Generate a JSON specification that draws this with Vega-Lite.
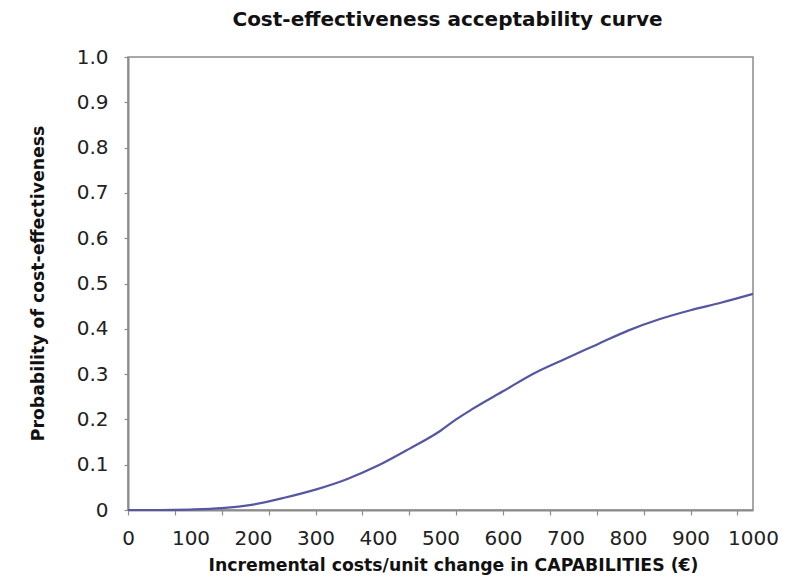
{
  "$schema": "https://vega.github.io/schema/vega-lite/v6.json",
  "width": 625,
  "height": 453,
  "autosize": {"type": "none"},
  "padding": {"left": 128, "top": 57, "right": 57, "bottom": 72},
  "background": "white",
  "title": {
    "text": "Cost-effectiveness acceptability curve",
    "font": "DejaVu Sans",
    "fontSize": 20,
    "fontWeight": "bold",
    "color": "#111111",
    "anchor": "middle",
    "dx": 7,
    "offset": 17
  },
  "config": {
    "view": {"stroke": "#8c8c8c", "strokeWidth": 1.5},
    "axis": {
      "grid": false,
      "labelFont": "DejaVu Sans",
      "labelFontSize": 20,
      "labelColor": "#222222",
      "titleFont": "DejaVu Sans",
      "titleFontSize": 17.3,
      "titleFontWeight": "bold",
      "titleColor": "#111111",
      "domainColor": "#8c8c8c",
      "domainWidth": 2,
      "tickColor": "#8c8c8c",
      "tickWidth": 1.2
    }
  },
  "data": {
    "values": [
      {"wtp": 0, "p": 0.0},
      {"wtp": 50, "p": 0.0},
      {"wtp": 100, "p": 0.001},
      {"wtp": 150, "p": 0.004},
      {"wtp": 200, "p": 0.012},
      {"wtp": 250, "p": 0.027},
      {"wtp": 300, "p": 0.045},
      {"wtp": 350, "p": 0.068},
      {"wtp": 400, "p": 0.098},
      {"wtp": 450, "p": 0.135},
      {"wtp": 500, "p": 0.175},
      {"wtp": 525, "p": 0.2},
      {"wtp": 550, "p": 0.222},
      {"wtp": 600, "p": 0.262},
      {"wtp": 650, "p": 0.302},
      {"wtp": 700, "p": 0.334},
      {"wtp": 750, "p": 0.365},
      {"wtp": 800, "p": 0.396},
      {"wtp": 850, "p": 0.421},
      {"wtp": 900, "p": 0.441},
      {"wtp": 950, "p": 0.458},
      {"wtp": 1000, "p": 0.477}
    ]
  },
  "layer": [
    {
      "mark": {"type": "line", "color": "#5557a3", "strokeWidth": 2.2, "interpolate": "monotone"},
      "encoding": {
        "x": {
          "field": "wtp",
          "type": "quantitative",
          "scale": {"domain": [0, 1000], "nice": false},
          "axis": {
            "values": [0, 100, 200, 300, 400, 500, 600, 700, 800, 900, 1000],
            "format": "d",
            "ticks": false,
            "labelPadding": 18,
            "labelFlush": false,
            "labelOverlap": false,
            "title": "Incremental costs/unit change in CAPABILITIES (€)",
            "titleX": 325,
            "titleY": 55,
            "titleBaseline": "middle",
            "titleAnchor": "middle"
          }
        },
        "y": {
          "field": "p",
          "type": "quantitative",
          "scale": {"domain": [0, 1], "nice": false},
          "axis": {
            "values": [0, 0.1, 0.2, 0.3, 0.4, 0.5, 0.6, 0.7, 0.8, 0.9, 1.0],
            "labelExpr": "datum.value == 0 ? '0' : format(datum.value, '.1f')",
            "tickSize": 4,
            "labelPadding": 16,
            "labelFlush": false,
            "labelOverlap": false,
            "title": "Probability of cost-effectiveness",
            "titleX": -90,
            "titleY": 226,
            "titleBaseline": "middle",
            "titleAnchor": "middle"
          }
        }
      }
    },
    {
      "mark": {"type": "line", "strokeOpacity": 0},
      "encoding": {
        "x": {
          "field": "wtp",
          "type": "quantitative",
          "axis": {
            "orient": "bottom",
            "values": [0, 75, 150, 225, 300, 375, 450, 525, 600, 675, 750, 825, 900, 975],
            "labels": false,
            "domain": false,
            "ticks": true,
            "tickSize": 5,
            "title": null
          }
        },
        "y": {"field": "p", "type": "quantitative"}
      }
    }
  ],
  "resolve": {"axis": {"x": "independent"}}
}
